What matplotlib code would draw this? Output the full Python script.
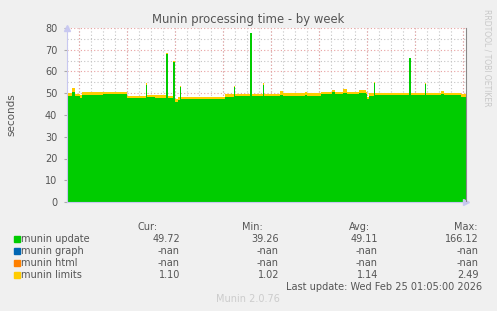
import matplotlib
matplotlib.use("Agg")
import matplotlib.pyplot as plt
from matplotlib.ticker import MultipleLocator

# hours since 16 Feb 00:00, start of each step
hours = [17.5, 20.5, 22, 24.5, 25.5, 36, 48, 57.5, 58, 62, 67.5, 68.5, 71, 72,
         73.5, 74.5, 75, 86, 97, 101.5, 102, 109.5, 110.5, 116, 116.5, 124.5,
         126, 137, 138, 145, 150.5, 152, 156, 158, 164, 167.5, 168, 169, 171.5,
         172, 180, 189, 190, 197, 197.5, 205, 206.5, 215, 217.1]
update = [48.8, 50.6, 48.6, 48.0, 49.3, 49.5, 47.8, 54.0, 48.2, 47.9, 68.0,
          47.6, 64.5, 46.0, 47.0, 53.0, 47.3, 47.2, 48.5, 53.0, 48.6, 77.5,
          48.7, 54.0, 48.7, 49.4, 48.8, 49.2, 48.8, 49.8, 50.4, 49.7, 50.3,
          49.6, 50.1, 49.5, 47.2, 48.8, 54.7, 49.0, 49.2, 66.0, 49.2, 54.3,
          49.0, 49.6, 49.0, 48.5, 48.5]
limits = [1.3, 1.7, 1.2, 1.1, 1.3, 1.3, 1.1, 0.6, 1.1, 1.2, 0.4, 1.0, 0.5,
          1.2, 1.2, 0.5, 1.2, 1.3, 1.0, 0.5, 1.1, 0.4, 1.1, 0.5, 1.1, 1.8,
          1.1, 1.6, 1.1, 0.9, 1.3, 1.0, 1.6, 1.1, 1.5, 1.1, 1.0, 1.1, 0.5,
          1.2, 1.1, 0.4, 1.1, 0.5, 1.2, 1.4, 1.1, 1.1, 1.1]

day_labels = ["17 Feb", "18 Feb", "19 Feb", "20 Feb", "21 Feb", "22 Feb", "23 Feb", "24 Feb"]
label_hours = [36, 60, 84, 108, 132, 156, 180, 204]
midnights = [24, 48, 72, 96, 120, 144, 168, 192, 216]

series = ["munin update", "munin graph", "munin html", "munin limits"]
colors = ["#00CC00", "#0066B3", "#FF8000", "#FFCC00"]
cur = ["49.72", "-nan", "-nan", "1.10"]
mins = ["39.26", "-nan", "-nan", "1.02"]
avgs = ["49.11", "-nan", "-nan", "1.14"]
maxs = ["166.12", "-nan", "-nan", "2.49"]

txt = "#555555"
W, H = 497, 311
fig = plt.figure(figsize=(W / 100, H / 100), dpi=100, facecolor="#F0F0F0")
ax = fig.add_axes([67 / W, 1 - 202 / H, (466 - 67) / W, 174 / H])
ax.set_facecolor("white")

top = [u + l for u, l in zip(update, limits)]
ax.fill_between(hours, 0, update, step="post", color=colors[0], lw=0, zorder=2)
ax.fill_between(hours, update, top, step="post", color=colors[3], lw=0, zorder=2)

ax.set_xlim(17.85, 217.35)
ax.set_ylim(0, 80)

# grid: grey every 6h / 5s, red every day / 10s
ax.xaxis.set_major_locator(MultipleLocator(6))
ax.set_xticks(label_hours, day_labels, minor=True)
ax.xaxis.set_major_formatter(plt.NullFormatter())
ax.yaxis.set_major_locator(MultipleLocator(10))
ax.yaxis.set_minor_locator(MultipleLocator(5))
gkw = dict(ls=(0, (1, 2)), lw=0.8, zorder=1)
ax.grid(True, axis="x", which="major", color="#C4C4C4", **gkw)
ax.grid(True, axis="y", which="minor", color="#C4C4C4", **gkw)
ax.grid(True, axis="y", which="major", color="#E8A0A0", **gkw)
for m in midnights:
    ax.axvline(m, color="#E8A0A0", **gkw)
ax.set_axisbelow(True)

ax.tick_params(axis="x", which="both", length=0, labelsize=7, labelcolor=txt, pad=6)
ax.tick_params(axis="y", which="major", length=2, color="#AAAAAA", labelsize=7, labelcolor=txt, pad=5)
ax.tick_params(axis="y", which="minor", length=0)

ax.spines["top"].set_visible(False)
ax.spines["left"].set_color("#C8C8F0")
ax.spines["bottom"].set_color("#C8C8F0")
ax.spines["right"].set_color("#888888")
ax.plot(0, 1, "^", color="#C8C8F0", ms=4, transform=ax.transAxes, clip_on=False)
ax.plot(1, 0, ">", color="#C8C8F0", ms=4, transform=ax.transAxes, clip_on=False)

fig.text(11 / W, 1 - 115 / H, "seconds", rotation=90, ha="center", va="center",
         fontsize=7.5, color=txt)
fig.text(248 / W, 1 - 19 / H, "Munin processing time - by week", ha="center", va="center",
         fontsize=8.4, color=txt)
fig.text(487 / W, 1 - 58 / H, "RRDTOOL / TOBI OETIKER", rotation=270, ha="center", va="center",
         fontsize=5.5, color="#C8C8C8")

# legend table
def put(x, y, s, ha="left", color=txt):
    fig.text(x / W, 1 - y / H, s, ha=ha, va="center", fontsize=7, color=color)

put(148, 226.5, "Cur:", ha="center")
put(252, 226.5, "Min:", ha="center")
put(359, 226.5, "Avg:", ha="center")
put(466, 226.5, "Max:", ha="center")
for i, name in enumerate(series):
    y = 239 + i * 12.1
    fig.patches.append(plt.Rectangle((14 / W, 1 - (y + 3) / H), 6 / W, 6 / H,
                                     transform=fig.transFigure, color=colors[i]))
    put(21, y, name)
    put(180, y, cur[i], ha="right")
    put(279, y, mins[i], ha="right")
    put(378, y, avgs[i], ha="right")
    put(479, y, maxs[i], ha="right")
put(482, 287.5, "Last update: Wed Feb 25 01:05:00 2026", ha="right")
put(248, 299, "Munin 2.0.76", ha="center", color="#CCCCCC")

fig.savefig("out.png", dpi=100, facecolor=fig.get_facecolor())
